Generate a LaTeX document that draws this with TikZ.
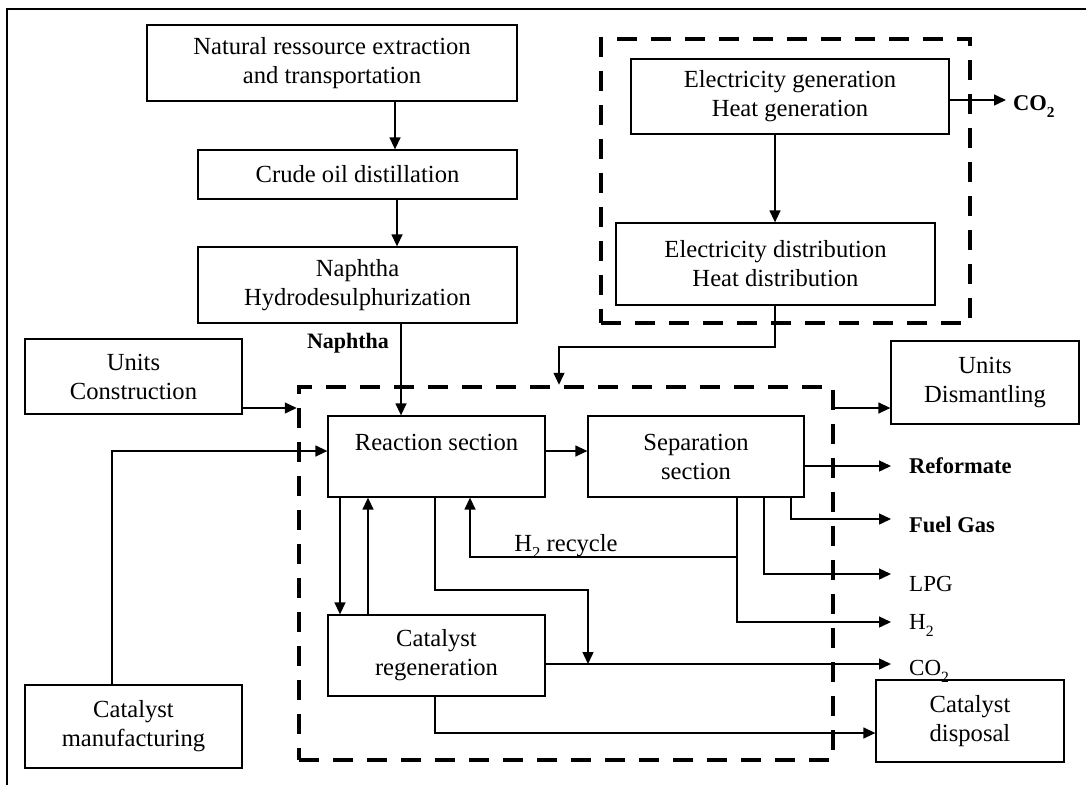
\documentclass[tikz,border=0pt]{standalone}
\usepackage{fontspec}
\setmainfont{Liberation Serif}
\usetikzlibrary{arrows.meta}
\newcommand\subtwo{\raisebox{-0.32em}{\scalebox{0.68}{2}}}
\begin{document}
\begin{tikzpicture}[x=1pt,y=-1pt,
  box/.style={draw, line width=1.3pt, inner sep=0pt, align=center, font=\fontsize{24.6}{29}\selectfont},
  dbox/.style={draw, line width=4.5pt, dash pattern=on 20pt off 14pt, inner sep=0pt},
  conn/.style={line width=1.4pt},
  arr/.style={conn, -{Triangle[length=12pt,width=11pt]}},
  outlbl/.style={inner sep=0pt, anchor=base west, font=\fontsize{23}{27}\selectfont},
]
\useasboundingbox (0,0) rectangle (1086,785);
% outer frame
\draw[line width=2pt] (7,785) -- (7,9) -- (1086,9);

% dashed containers
\node[dbox, minimum width=369pt, minimum height=284pt] (elec) at (785.5,181) {};
\node[dbox, minimum width=534pt, minimum height=373pt] (main) at (566,573.5) {};

% boxes
\node[box, minimum width=370pt, minimum height=76pt] (nat) at (332,63) {Natural ressource extraction\\and transportation};
\node[box, minimum width=319pt, minimum height=49pt] (crude) at (357.5,174.5) {Crude oil distillation};
\node[box, minimum width=319pt, minimum height=76pt] (hds) at (357.5,285) {Naphtha\\Hydrodesulphurization};
\node[box, minimum width=318pt, minimum height=75pt] (gen) at (790,96.5) {Electricity generation\\Heat generation};
\node[box, minimum width=319pt, minimum height=82pt] (dist) at (775.5,264) {Electricity distribution\\Heat distribution};
\node[box, minimum width=217pt, minimum height=75pt] (constr) at (133.5,376.5) {Units\\Construction};
\node[box, minimum width=217pt, minimum height=83pt] (mfg) at (133.5,726.5) {Catalyst\\manufacturing};
\node[box, minimum width=217pt, minimum height=81pt] (react) at (436.5,456.5) {Reaction section\\\mbox{}};
\node[box, minimum width=216pt, minimum height=81pt] (sep) at (696,456.5) {Separation\\section};
\node[box, minimum width=217pt, minimum height=81pt] (regen) at (436.5,655.5) {Catalyst\\regeneration};
\node[box, minimum width=188pt, minimum height=83pt] (dism) at (985,382.5) {Units\\Dismantling};
\node[box, minimum width=188pt, minimum height=82pt] (disp) at (970,721) {Catalyst\\disposal};

% labels
\node[inner sep=0pt, font=\bfseries\fontsize{22}{26}\selectfont] (naphlbl) at (348,343) {Naphtha};
\node[inner sep=0pt, anchor=base west, font=\bfseries\fontsize{22.5}{26}\selectfont] (co2top) at (1013,110) {CO\subtwo};
\node[outlbl, font=\bfseries\fontsize{22.5}{26}\selectfont] (ref) at (909,473) {Reformate};
\node[outlbl, font=\bfseries\fontsize{22.5}{26}\selectfont] (fuel) at (909,532) {Fuel Gas};
\node[outlbl] (lpg) at (909,591) {LPG};
\node[outlbl] (h2) at (909,629) {H\subtwo};
\node[outlbl] (co2) at (909,675) {CO\subtwo};
\node[inner sep=0pt, anchor=base, font=\fontsize{24.6}{29}\selectfont] (reclbl) at (566,551) {H\subtwo{} recycle};

% arrow end points
\coordinate (co2topin) at (1006,100);
\coordinate (refin) at (891,466);
\coordinate (fuelin) at (891,519);
\coordinate (lpgin) at (891,574);
\coordinate (h2in) at (891,622);
\coordinate (co2in) at (891,664);

% connectors
\draw[arr] (395,0 |- nat.south) -- (395,0 |- crude.north);
\draw[arr] (397,0 |- crude.south) -- (397,0 |- hds.north);
\draw[arr] (401,0 |- hds.south) -- (401,0 |- react.north);
\draw[arr] (775,0 |- gen.south) -- (775,0 |- dist.north);
\draw[arr] (gen.east |- co2topin) -- (co2topin);
\draw[arr] (775,0 |- dist.south) -- (775,347) -- (559,347) -- (559,0 |- main.north);
\draw[arr] (constr.east |- 0,408) -- (main.west |- 0,408);
\draw[arr] (main.east |- 0,408) -- (dism.west |- 0,408);
\draw[arr] (112,0 |- mfg.north) -- (112,451) -- (react.west |- 0,451);
\draw[arr] (react.east |- 0,451) -- (sep.west |- 0,451);
\draw[arr] (340,0 |- react.south) -- (340,0 |- regen.north);
\draw[arr] (368,0 |- regen.north) -- (368,0 |- react.south);
\draw[arr] (435,0 |- react.south) -- (435,590) -- (588,590) -- (588,0 |- co2in);
\draw[arr] (regen.east |- co2in) -- (co2in);
\draw[arr] (435,0 |- regen.south) -- (435,733) -- (disp.west |- 0,733);
\draw[arr] (sep.east |- refin) -- (refin);
\draw[arr] (791,0 |- sep.south) -- (791,0 |- fuelin) -- (fuelin);
\draw[arr] (764,0 |- sep.south) -- (764,0 |- lpgin) -- (lpgin);
\draw[arr] (737,0 |- sep.south) -- (737,0 |- h2in) -- (h2in);
\draw[arr] (737,557) -- (470,557) -- (470,0 |- react.south);
\end{tikzpicture}
\end{document}
